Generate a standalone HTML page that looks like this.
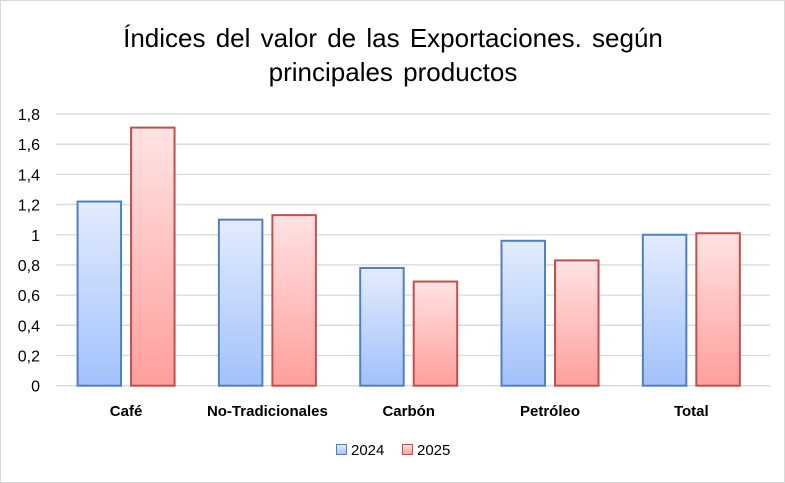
<!DOCTYPE html>
<html><head><meta charset="utf-8"><style>
body{margin:0;background:#fff;}
svg{display:block;font-family:"Liberation Sans",Calibri,sans-serif;}
</style></head><body>
<svg id="chart" width="785" height="483">
<defs>
<linearGradient id="gb" x1="0" y1="0" x2="0" y2="1"><stop offset="0" stop-color="#e3ecfd"/><stop offset="1" stop-color="#a2c1fb"/></linearGradient>
<linearGradient id="gr" x1="0" y1="0" x2="0" y2="1"><stop offset="0" stop-color="#ffe3e3"/><stop offset="1" stop-color="#ff9f9c"/></linearGradient>
</defs>
<rect x="0.5" y="0.5" width="784" height="482" fill="#fff" stroke="#d9d9d9"/>
<text x="393" y="47" text-anchor="middle" font-size="26" fill="#000" word-spacing="3">Índices del valor de las Exportaciones. según</text>
<text x="393" y="81" text-anchor="middle" font-size="26" fill="#000" word-spacing="3">principales productos</text>
<g id="grid"></g><g id="bars"></g><g id="labels"></g>
<g>
<rect x="336.5" y="444.5" width="10" height="10" fill="url(#gb)" stroke="#4f81bd"/>
<text x="351" y="455" font-size="15">2024</text>
<rect x="402.5" y="444.5" width="10" height="10" fill="url(#gr)" stroke="#c0504d"/>
<text x="417" y="455" font-size="15">2025</text>
</g>
</svg>
<script>
const categories=["Café","No-Tradicionales","Carbón","Petróleo","Total"];
const values2024=[1.22,1.10,0.78,0.96,1.00];
const values2025=[1.71,1.13,0.69,0.83,1.01];
const ticks=[0,0.2,0.4,0.6,0.8,1,1.2,1.4,1.6,1.8];
const tickLabels=["0","0,2","0,4","0,6","0,8","1","1,2","1,4","1,6","1,8"];
const NS="http://www.w3.org/2000/svg";
const gx0=56,gx1=770,px0=55.4,px1=762,yb=385.7,yt=114,ymax=1.8;
const y=v=>yb-(yb-yt)*v/ymax;
const bw=(px1-px0)/categories.length;
const cx=i=>px0+bw*(i+0.5);
function mk(t,a,p){const e=document.createElementNS(NS,t);for(const k in a)e.setAttribute(k,a[k]);p.appendChild(e);return e;}
const grid=document.getElementById('grid'),bars=document.getElementById('bars'),labels=document.getElementById('labels');
ticks.forEach((t,i)=>{
 const l=mk('line',{x1:gx0,x2:gx1,y1:y(t),y2:y(t),stroke:'#d9d9d9','stroke-width':1.3},grid);
 
 
 const tx=mk('text',{x:40,y:y(t)+6,'text-anchor':'end','font-size':16},labels);
 tx.textContent=tickLabels[i];
 
 
});
categories.forEach((c,i)=>{
 const w=43.5;
 const b1=mk('rect',{x:cx(i)-5-w,y:y(values2024[i]),width:w,height:yb-y(values2024[i]),fill:'url(#gb)',stroke:'#4f81bd','stroke-width':2},bars);
 
 
 const b2=mk('rect',{x:cx(i)+5,y:y(values2025[i]),width:w,height:yb-y(values2025[i]),fill:'url(#gr)',stroke:'#c0504d','stroke-width':2},bars);
 
 
 const t=mk('text',{x:cx(i),y:416,'text-anchor':'middle','font-size':15,'font-weight':'bold'},labels);
 t.textContent=c;
 
 
});
</script>
</body></html>
